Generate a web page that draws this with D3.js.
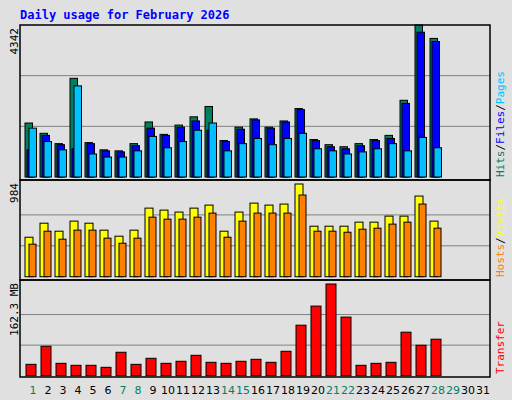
<!DOCTYPE html>
<html><head><meta charset="utf-8">
<script src="https://cdn.jsdelivr.net/npm/d3@7"></script>
<style>body{margin:0;background:#e0e0e0}svg{display:block}</style>
</head><body>
<script>
const days = d3.range(1, 32);
const weekend = [1,7,8,14,15,21,22,28,29];
const hits  = [1542,1248,953,2819,982,776,747,953,1572,1218,1483,1719,2014,1041,1424,1660,1424,1601,1955,1071,923,864,953,1071,1189,2191,4342,3959];
const files = [776,1189,923,806,953,747,717,894,1395,1189,1424,1601,1336,1012,1365,1631,1395,1572,1925,1041,864,806,894,1041,1100,2102,4136,3870];
const pages = [1395,1012,776,2603,658,570,570,747,1159,835,1012,1336,1542,747,953,1100,923,1100,1248,806,747,658,717,806,953,747,1130,835];
const hosts = [419,568,483,590,568,494,430,494,728,707,686,728,760,483,686,781,760,771,984,536,536,536,579,579,643,643,856,590];
const visits= [345,483,398,494,494,409,355,409,632,611,611,632,675,419,590,675,675,675,867,483,483,472,504,515,558,579,771,515];
const transfer=[20.1,52.1,21.9,18.4,18.4,14.8,41.5,20.1,30.8,21.9,25.5,36.1,23.7,21.9,25.5,29.0,23.7,43.2,89.4,123.2,162.3,103.7,18.4,21.9,23.7,77.0,53.9,64.6];
const maxLabels = ["4342","984","162.3 MB"];

const W=512,H=400,L=20,R=490;
const svg=d3.select("body").append("svg").attr("width",W).attr("height",H);
svg.append("rect").attr("width",W).attr("height",H).attr("fill","#e0e0e0");
svg.append("text").attr("x",20).attr("y",19).attr("font-family","DejaVu Sans Mono").attr("font-weight","bold")
  .attr("font-size",12).attr("fill","#0000ff").text("Daily usage for February 2026");

const x=d3.scaleLinear().domain([1,32]).range([25,25+15*31]);
const panels=[
 {top:25,base:177,max:4342,series:[[hits,"#00805f",0,7.5],[files,"#0000ff",2,7.5],[pages,"#00c0ff",4,7.5]],
  label:[["Hits","#00805f"],["/",'#000'],["Files","#0000ff"],["/","#000"],["Pages","#00c0ff"]]},
 {top:180,base:276.7,max:984,series:[[hosts,"#ffff00",0,8],[visits,"#ff8000",4,7]],
  label:[["Hosts","#ff8000"],["/","#000"],["Visits","#ffff00"]]},
 {top:280,base:375.7,max:162.3,series:[[transfer,"#ff0000",1,10]],label:[["Transfer","#ff0000"]]}
];
const bottom=[180,280,377];
panels.forEach((p,i)=>{
  const y=d3.scaleLinear().domain([0,p.max]).range([p.base,p.top+(i==0?0:4)]);
  [1/3,2/3].forEach(f=>svg.append("line").attr("x1",L).attr("x2",R).attr("y1",y(p.max*f)).attr("y2",y(p.max*f)).attr("stroke","#808080"));
  p.series.forEach(([vals,col,off,w])=>{
    svg.append("g").selectAll("rect").data(vals).join("rect")
      .attr("x",(d,j)=>x(j+1)+off).attr("width",w)
      .attr("y",d=>y(d)).attr("height",d=>p.base-y(d))
      .attr("fill",col).attr("stroke","#000").attr("stroke-width",1);
  });
  svg.append("rect").attr("x",L).attr("y",p.top).attr("width",R-L).attr("height",bottom[i]-p.top)
    .attr("fill","none").attr("stroke","#000").attr("stroke-width",1.5);
  svg.append("text").attr("transform",`translate(18,${p.top+3}) rotate(-90)`).attr("text-anchor","end")
    .attr("font-family","DejaVu Sans Mono").attr("font-size",11).attr("fill","#000").text(maxLabels[i]);
  const t=svg.append("text").attr("transform",`translate(504,${bottom[i]-3}) rotate(-90)`)
    .attr("font-family","DejaVu Sans Mono").attr("font-size",11);
  p.label.forEach(([s,c])=>t.append("tspan").attr("fill",c).text(s));
});
svg.append("g").selectAll("text").data(days).join("text")
  .attr("x",d=>x(d)+8).attr("y",394).attr("text-anchor","middle")
  .attr("font-family","DejaVu Sans").attr("font-size",11)
  .attr("fill",d=>weekend.includes(d)?"#008060":"#000").text(d=>d);
</script></body></html>
